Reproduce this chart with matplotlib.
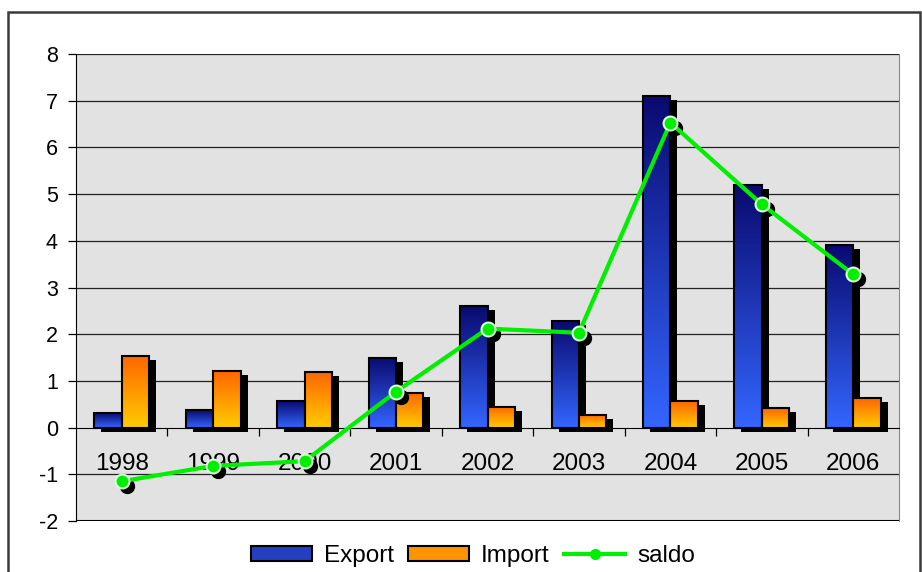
import numpy as np
import matplotlib
matplotlib.use("Agg")
import matplotlib.pyplot as plt
from matplotlib.patches import Rectangle
from matplotlib.colors import LinearSegmentedColormap
from matplotlib.transforms import ScaledTranslation

plt.rcParams['font.family'] = ['Liberation Sans', 'DejaVu Sans']
plt.rcParams['axes.unicode_minus'] = False

years = ["1998", "1999", "2000", "2001", "2002", "2003", "2004", "2005", "2006"]
export = [0.32, 0.38, 0.56, 1.50, 2.61, 2.29, 7.09, 5.20, 3.92]
imports = [1.54, 1.22, 1.18, 0.75, 0.45, 0.28, 0.56, 0.41, 0.64]
saldo = [-1.15, -0.82, -0.72, 0.77, 2.12, 2.03, 6.53, 4.78, 3.28]

fig = plt.figure(figsize=(9.22, 5.72), dpi=100)
ax = fig.add_axes([76 / 922, 51 / 572, 823 / 922, 467 / 572])
ax.set_facecolor('#e2e2e2')

# outer chart frame
fig.patches.append(Rectangle((8 / 922, -0.05), 912 / 922, 1.05 - 12 / 572,
                             transform=fig.transFigure, fill=False,
                             edgecolor='#3a3a3a', lw=1.8))

exp_cmap = LinearSegmentedColormap.from_list('exp', ['#3366ff', '#0a0a70'])
imp_cmap = LinearSegmentedColormap.from_list('imp', ['#ffcc00', '#ff6600'])
grad = np.linspace(1, 0, 128).reshape(-1, 1)

shadow = ax.transData + ScaledTranslation(7 / 100, -4 / 100, fig.dpi_scale_trans)
dot_shadow = ax.transData + ScaledTranslation(5 / 100, -5 / 100, fig.dpi_scale_trans)

w = 0.3
x = np.arange(len(years))


def gbar(xc, h, cmap):
    x0 = xc - w / 2
    ax.add_patch(Rectangle((x0, 0), w, h, facecolor='black', edgecolor='none',
                           transform=shadow, zorder=2))
    ax.imshow(grad, extent=[x0, x0 + w, 0, h], cmap=cmap, vmin=0, vmax=1,
              aspect='auto', origin='upper', zorder=3)
    ax.add_patch(Rectangle((x0, 0), w, h, fill=False, edgecolor='black',
                           lw=1.5, zorder=3.5))


for i in range(len(years)):
    gbar(x[i] - w / 2, export[i], exp_cmap)
    gbar(x[i] + w / 2, imports[i], imp_cmap)

ax.plot(x, saldo, 'o', color='black', ms=10, transform=dot_shadow, zorder=4)
ax.plot(x, saldo, '-', color='#00ee00', lw=3, zorder=5)
ax.plot(x, saldo, 'o', color='#00ee00', ms=10, mec='#d8ffd8', mew=1.5, zorder=6)

for yv in range(-1, 9):
    if yv != 0:
        ax.axhline(yv, color='#222222', lw=0.9, zorder=1)

ax.set_xlim(-0.5, 8.5)
ax.set_ylim(-2, 8)
ax.set_yticks(range(-2, 9))
ax.tick_params(axis='y', length=6, width=0.9, labelsize=15.5, pad=7)

ax.spines['bottom'].set_position(('data', 0))
ax.spines['top'].set_visible(False)
ax.spines['right'].set_color('#888888')
ax.set_xticks(np.arange(0.5, 8.5, 1))
ax.set_xticklabels([])
ax.set_xticks(x, minor=True)
ax.set_xticklabels(years, minor=True)
ax.tick_params(axis='x', which='major', length=6, width=0.9, direction='out')
ax.tick_params(axis='x', which='minor', length=0, labelsize=17.5, pad=18)
ax.axhline(-2, color='black', lw=1.5, zorder=7)

handles = [Rectangle((0, 0), 1, 1, facecolor='#2440c0', edgecolor='black', lw=1.5),
           Rectangle((0, 0), 1, 1, facecolor='#ff9400', edgecolor='black', lw=1.5),
           plt.Line2D([], [], color='#00ee00', lw=3, marker='o', ms=7)]
fig.legend(handles, ['Export', 'Import', 'saldo'], loc='center',
           bbox_to_anchor=(473 / 922, 1 - 556 / 572), ncol=3, frameon=False,
           fontsize=17.5, handlelength=2.5, handleheight=0.6, columnspacing=0.6,
           handletextpad=0.5)

fig.savefig('out.png', dpi=100)
